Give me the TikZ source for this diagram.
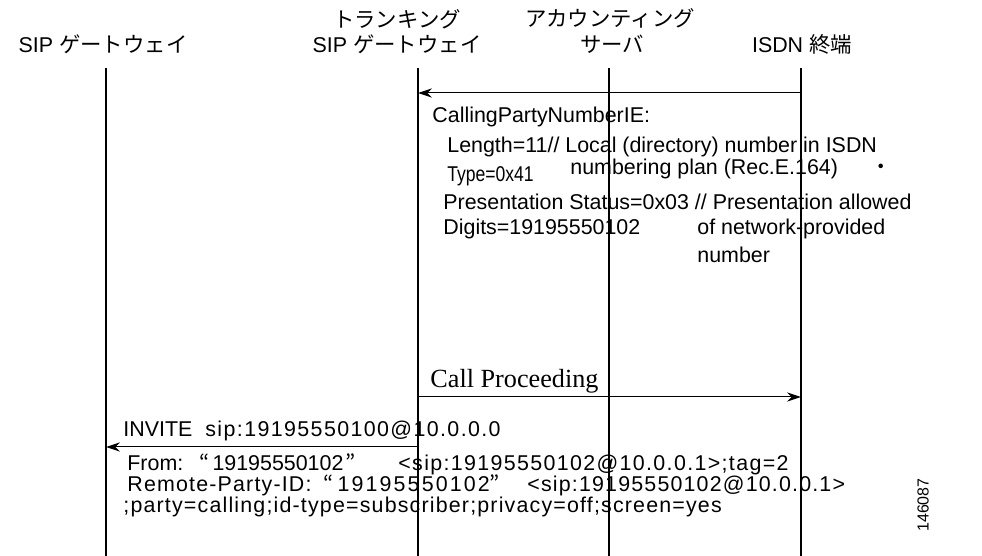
\documentclass[tikz,border=0pt]{standalone}
\usepackage{fontspec}
\setmainfont{Liberation Sans}
\newfontfamily\jpfont{Noto Sans CJK JP}
\newfontfamily\timesfont{Liberation Serif}
\usetikzlibrary{arrows.meta}

\tikzset{
  lifeline/.style={line width=1pt},
  msg/.style={->, line width=0.5pt},
  txt/.style={anchor=base west, inner sep=0pt, font=\fontsize{10.7}{12.8}\selectfont},
  head/.style={anchor=base, inner sep=0pt, font=\fontsize{10.7}{12.8}\selectfont},
}
\newcommand{\jq}[1]{{\jpfont #1}}
\newcommand{\ls}[1][5.5]{\addfontfeature{LetterSpace=#1}}

\begin{document}
\begin{tikzpicture}[x=0.5pt, y=-0.5pt, >={Stealth[length=7pt,width=4.6pt]}]
    \useasboundingbox (0,0) rectangle (982,556);
    % headers
    \node[head] (hsip) at (103,53) {SIP \jq{ゲートウェイ}};
    \node[head] (htrunkA) at (397,28) {\jq{トランキング}};
    \node[head] (htrunkB) at (397,53) {SIP \jq{ゲートウェイ}};
    \node[head] (hacctA) at (610,27) {\jq{アカウンティング}};
    \node[head] (hacctB) at (612,53) {\jq{サーバ}};
    \node[head] (hisdn) at (802,53) {ISDN \jq{終端}};
    % lifelines
    \coordinate (sipT) at (106,68);   \coordinate (sipB) at (106,556);
    \coordinate (trunkT) at (418,68); \coordinate (trunkB) at (418,556);
    \coordinate (acctT) at (609,68);  \coordinate (acctB) at (609,556);
    \coordinate (isdnT) at (801,68);  \coordinate (isdnB) at (801,556);
    \draw[lifeline] (sipT) -- (sipB);
    \draw[lifeline] (trunkT) -- (trunkB);
    \draw[lifeline] (acctT) -- (acctB);
    \draw[lifeline] (isdnT) -- (isdnB);
    % messages
    \coordinate (setup) at (0,93);
    \coordinate (proc) at (0,397);
    \coordinate (invite) at (0,447);
    \draw[msg] (isdnT |- setup) -- (trunkT |- setup);
    \draw[msg] (trunkT |- proc) -- (isdnT |- proc);
    \draw[msg] (trunkT |- invite) -- (sipT |- invite);
    % calling party number IE
    \node[txt] (ie) at (432,123) {CallingPartyNumberIE:};
    \node[txt] (ielen) at (447,153) {Length=11// Local (directory) number in ISDN};
    \node[txt] (ieplan) at (570,175) {numbering plan (Rec.E.164)\hspace{1.5em}\jq{・}};
    \node[txt, xscale=0.82] (ietype) at (447,182) {Type=0x41};
    \node[txt] (iepres) at (443,210) {Presentation Status=0x03 // Presentation allowed};
    \node[txt] (iedig) at (443,235) {Digits=19195550102};
    \node[txt] (ienetA) at (697,235) {of network-provided};
    \node[txt] (ienetB) at (697,263) {number};
    % call proceeding
    \node[txt, font=\timesfont\fontsize{13.1}{15}\selectfont] (lproc) at (430,387) {Call Proceeding};
    % invite
    \node[txt] (linv) at (123,437) {\makebox[41pt][l]{INVITE}{\ls[6.5] sip:19195550100@10.0.0.0}};
    \node[txt] (lfrom) at (127,471) {\makebox[36pt][l]{From:}\makebox[99.5pt][l]{\jq{“}\hspace{1.5pt}19195550102\hspace{1pt}\jq{”}}{\ls[6.3] <sip:19195550102@10.0.0.1>;tag=2}};
    \node[txt] (lrpid) at (127,492) {\makebox[98pt][l]{\ls Remote-Party-ID:}\makebox[102pt][l]{\jq{“}\hspace{2pt}{\ls[10] 19195550102}\jq{”}}{\ls <sip:19195550102@10.0.0.1>}};
    \node[txt] (lparty) at (123,512) {\ls ;party=calling;id-type=subscriber;privacy=off;screen=yes};
    \node[rotate=90, inner sep=0pt, font=\fontsize{8}{9}\selectfont] (figid) at (923,505) {146087};
\end{tikzpicture}
\end{document}
